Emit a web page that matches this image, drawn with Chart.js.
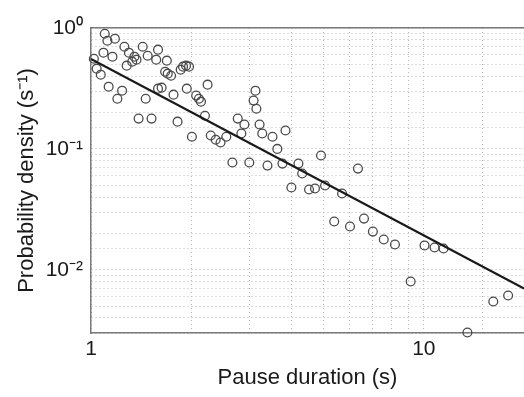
<!DOCTYPE html>
<html>
<head>
<meta charset="utf-8">
<script src="https://cdn.jsdelivr.net/npm/chart.js@4/dist/chart.umd.min.js"></script>
<style>
  html, body { margin: 0; padding: 0; background: #fff; }
  #wrap { width: 524px; height: 397px; }
</style>
</head>
<body>
<div id="wrap"><canvas id="chart" width="524" height="397"></canvas></div>
<script>
// ==============================
// DATA
// ==============================
const pauseDur = [
  1.10, 1.12, 1.18, 1.09, 1.02, 1.16, 1.26, 1.30, 1.28, 1.33,
  1.35, 1.37, 1.43, 1.48, 1.59, 1.57, 1.69, 1.04, 1.07, 1.13,
  1.24, 1.20, 1.46, 1.39, 1.52, 1.59, 1.63, 1.67, 1.70, 1.74,
  1.77, 1.82, 1.86, 1.89, 1.93, 1.97, 1.94, 2.01, 2.07, 2.11,
  2.14, 2.20, 2.24, 2.29, 2.37, 2.45, 2.55, 2.66, 2.76, 2.83,
  2.89, 2.99, 3.12, 3.08, 3.14, 3.21, 3.27, 3.51, 3.84, 3.63,
  3.39, 3.76, 4.20, 4.31, 4.91, 6.34, 4.00, 4.52, 4.71, 5.05,
  5.68, 5.38, 6.00, 6.61, 7.03, 7.58, 8.19, 9.13, 10.05, 10.77,
  11.46, 13.52, 16.17, 17.92
];
const probDensity = [
  0.897, 0.785, 0.816, 0.625, 0.557, 0.579, 0.700, 0.625, 0.488, 0.527,
  0.579, 0.547, 0.700, 0.590, 0.662, 0.547, 0.537, 0.461, 0.411, 0.327,
  0.303, 0.260, 0.260, 0.178, 0.178, 0.315, 0.321, 0.435, 0.419, 0.403,
  0.281, 0.168, 0.452, 0.479, 0.488, 0.479, 0.315, 0.126, 0.276, 0.260,
  0.246, 0.188, 0.340, 0.129, 0.119, 0.113, 0.126, 0.0771, 0.178, 0.134,
  0.159, 0.0771, 0.303, 0.251, 0.215, 0.159, 0.134, 0.126, 0.142, 0.100,
  0.0728, 0.0756, 0.0756, 0.0626, 0.0881, 0.0687, 0.0479, 0.0461, 0.0470, 0.0498,
  0.0428, 0.0251, 0.0228, 0.0265, 0.0207, 0.0178, 0.0162, 0.0080, 0.0159, 0.0153,
  0.0150, 0.00303, 0.00547, 0.00613
];

// power-law fit line, end points
const fitX = [1, 20];
const fitY = [0.555, 0.0070];

const xLabels = { 1: "1", 10: "10" };
const yLabels = { 1: "10\u2070", 0.1: "10\u207B\u00B9", 0.01: "10\u207B\u00B2" };

// ==============================
// BUILD CHART
// ==============================
const points = pauseDur.map((x, i) => ({ x: x, y: probDensity[i] }));
const fitLine = fitX.map((x, i) => ({ x: x, y: fitY[i] }));

const FONT = "'Liberation Sans', Arial, Helvetica, sans-serif";

function near(v, t) { return Math.abs(v - t) / t < 1e-6; }

new Chart(document.getElementById("chart"), {
  type: "scatter",
  data: {
    datasets: [
      {
        type: "line",
        data: fitLine,
        borderColor: "#1a1a1a",
        borderWidth: 2.2,
        pointRadius: 0,
        fill: false,
        order: 1
      },
      {
        data: points,
        pointStyle: "circle",
        pointRadius: 4.4,
        pointBorderWidth: 1.3,
        pointBorderColor: "#4a4a4a",
        pointBackgroundColor: "rgba(0,0,0,0)",
        clip: false,
        order: 2
      }
    ]
  },
  options: {
    responsive: false,
    animation: false,
    layout: {
      autoPadding: false, // plot runs right to the edge
      padding: { top: 28, right: 0, left: 0, bottom: 0 }
    },
    plugins: { legend: { display: false }, tooltip: { enabled: false } },
    scales: {
      x: {
        type: "logarithmic",
        min: 1,
        max: 20,
        afterFit(scale) {
          scale.height = 64;
          scale.paddingRight = 0;
        },
        ticks: {
          autoSkip: false,
          maxRotation: 0,
          color: "#1a1a1a",
          font: { family: FONT, size: 21 },
          padding: 4,
          callback(v) {
            for (const k in xLabels) if (near(v, +k)) return xLabels[k];
            return "";
          }
        },
        grid: { color: "#b8b8b8", lineWidth: 1, tickLength: 0 },
        border: { color: "#7a7a7a", width: 1.5, dash: [1, 3] },
        title: {
          display: true,
          text: "Pause duration (s)",
          color: "#1a1a1a",
          font: { family: FONT, size: 22 },
          padding: { top: 0, bottom: 6 }
        }
      },
      xTop: {
        type: "logarithmic",
        position: "top",
        min: 1,
        max: 20,
        afterFit(scale) { scale.height = 0; },
        ticks: { display: false },
        grid: { display: false },
        border: { color: "#7a7a7a", width: 1.5 }
      },
      y: {
        type: "logarithmic",
        min: 0.003,
        max: 1,
        afterFit(scale) { scale.width = 91; },
        ticks: {
          autoSkip: false,
          color: "#1a1a1a",
          font: { family: FONT, size: 21 },
          padding: 8,
          callback(v) {
            for (const k in yLabels) if (near(v, +k)) return yLabels[k];
            return "";
          }
        },
        grid: { color: "#b8b8b8", lineWidth: 1, tickLength: 0 },
        border: { color: "#7a7a7a", width: 1.5, dash: [1, 3] },
        title: {
          display: true,
          text: "Probability density (s\u207B\u00B9)",
          color: "#1a1a1a",
          font: { family: FONT, size: 22 },
          padding: { top: 14, bottom: 0 }
        }
      }
    }
  }
});
</script>
</body>
</html>
